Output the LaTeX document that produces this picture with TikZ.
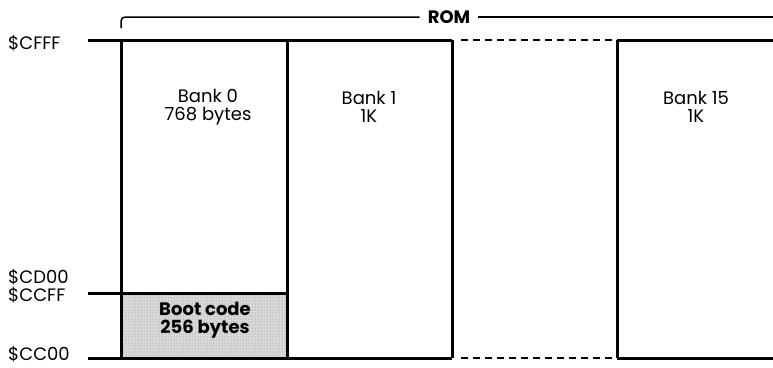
\documentclass[tikz,border=0pt]{standalone}
\usepackage{fontspec}
\setmainfont{Poppins}
\usetikzlibrary{patterns}
\begin{document}
\begin{tikzpicture}[x=1pt,y=-1pt,
  wall/.style={line width=3pt},
  gapline/.style={line width=2pt, dash pattern=on 7pt off 5pt},
  thinline/.style={line width=1.5pt},
  txt/.style={font=\fontsize{18}{18}\selectfont, align=center, inner sep=0pt},
  boldtxt/.style={font=\fontsize{18}{18}\selectfont\bfseries, align=center, inner sep=0pt},
  addr/.style={font=\fontsize{18}{18}\selectfont, anchor=west, inner sep=0pt}]
\useasboundingbox (0,0) rectangle (773,367);
% boot code shaded area
\fill[black!15] (121,293) rectangle (287,358);
\fill[pattern=dots, pattern color=black!50] (121,293) rectangle (287,358);
% coordinates
\coordinate (tl) at (88,40);
\coordinate (b0t) at (121,40);
\coordinate (b1t) at (287,40);
\coordinate (b1r) at (452,40);
\coordinate (d1) at (461,40);
\coordinate (d2) at (612,40);
\coordinate (b15t) at (617,40);
\coordinate (tr) at (773,40);
\coordinate (bl) at (88,358);
\coordinate (b0b) at (121,358);
\coordinate (b1b) at (287,358);
\coordinate (b1rb) at (452,358);
\coordinate (e1) at (461,358);
\coordinate (e2) at (612,358);
\coordinate (b15b) at (617,358);
\coordinate (br) at (773,358);
\coordinate (sl) at (88,293);
\coordinate (sr) at (287,293);
% horizontal lines
\draw[wall] (tl) -- (b1r);
\draw[gapline] (d1) -- (d2);
\draw[wall] (b15t) -- (tr);
\draw[wall] (bl) -- (b1rb);
\draw[gapline] (e1) -- (e2);
\draw[wall] (b15b) -- (br);
\draw[wall] (sl) -- (sr);
% vertical walls
\draw[wall] (b0t) -- (b0b);
\draw[wall] (b1t) -- (b1b);
\draw[wall] (b1r) -- (b1rb);
\draw[wall] (b15t) -- (b15b);
% ROM bracket
\node[boldtxt] (rom) at (449,17) {ROM};
\coordinate (romL) at (121,28);
\coordinate (romR) at (773,17);
\draw[thinline, rounded corners=4pt] (romL) |- ([xshift=-8pt]rom.west);
\draw[thinline] ([xshift=8pt]rom.east) -- (romR);
% bank labels
\node[txt] (bank0) at (208,107) {Bank 0\\768 bytes};
\node[txt] (bank1) at (369,107) {Bank 1\\1K};
\node[txt] (bank15) at (696,107) {Bank 15\\1K};
\node[boldtxt] (boot) at (205,320) {Boot code\\256 bytes};
% addresses
\node[addr] (cfff) at (8,43) {\$CFFF};
\node[addr] (cd00) at (8,277) {\$CD00};
\node[addr] (ccff) at (8,295) {\$CCFF};
\node[addr] (cc00) at (8,354) {\$CC00};
\end{tikzpicture}
\end{document}
